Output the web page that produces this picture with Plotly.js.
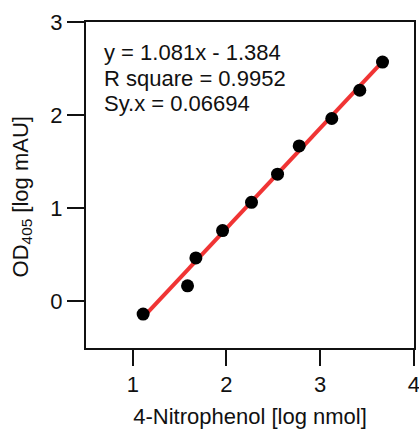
<!DOCTYPE html>
<html>
<head>
<meta charset="utf-8">
<script src="https://cdn.plot.ly/plotly-3.0.1.min.js"></script>
<style>
html,body{margin:0;padding:0;background:#fff;}
#chart{width:419px;height:431px;}
</style>
</head>
<body>
<div id="chart"></div>
<script>
// Data
const pointsX = [1.110, 1.584, 1.673, 1.958, 2.267, 2.545, 2.776, 3.124, 3.423, 3.666];
const pointsY = [-0.136, 0.168, 0.467, 0.761, 1.064, 1.366, 1.669, 1.964, 2.267, 2.570];
const fitX = [1.110, 3.666];
const fitY = [-0.170, 2.575];
const xTicks = [1, 2, 3, 4];
const yTicks = [0, 1, 2, 3];
const statLines = ["y = 1.081x - 1.384", "R square = 0.9952", "Sy.x = 0.06694"];
const xTitle = '4-Nitrophenol [log nmol]';
const yTitle = 'OD<sub>405</sub> [log mAU]';

const font = "Liberation Sans, Arial, sans-serif";
const fs = 22;

const traces = [
  {
    x: fitX, y: fitY, mode: 'lines', type: 'scatter',
    line: {color: 'rgb(240,52,52)', width: 4},
    hoverinfo: 'skip', showlegend: false
  },
  {
    x: pointsX, y: pointsY, mode: 'markers', type: 'scatter',
    marker: {color: '#000', size: 13},
    cliponaxis: false, showlegend: false
  }
];

const statY = [0.905, 0.828, 0.751];

const annotations = statLines.map((t, i) => ({
  xref: 'paper', yref: 'paper', x: 0.05, y: statY[i],
  xanchor: 'left', yanchor: 'middle', align: 'left', showarrow: false,
  text: t,
  font: {family: font, size: fs, color: '#111'}
}));
annotations.push({
  xref: 'paper', yref: 'paper', x: -0.195, y: 0.462,
  xanchor: 'center', yanchor: 'middle', showarrow: false,
  textangle: -90, text: yTitle,
  font: {family: font, size: fs, color: '#111'}
});

const layout = {
  width: 419, height: 431,
  margin: {l: 86, r: 5, t: 22, b: 83},
  paper_bgcolor: '#fff', plot_bgcolor: '#fff',
  font: {family: font, size: fs, color: '#111'},
  showlegend: false,
  xaxis: {
    range: [0.5, 4.002], tickvals: xTicks, ticktext: xTicks.map(String),
    ticks: 'outside', ticklen: 16, tickwidth: 2, tickcolor: '#111',
    ticklabeloverflow: 'allow',
    showline: true, linewidth: 2, linecolor: '#111', mirror: true,
    showgrid: false, zeroline: false, automargin: false,
    tickfont: {family: font, size: fs, color: '#111'},
    title: {text: xTitle, font: {family: font, size: fs, color: '#111'}, standoff: 12}
  },
  yaxis: {
    range: [-0.5, 3], tickvals: yTicks, ticktext: yTicks.map(String),
    ticks: 'outside', ticklen: 17, tickwidth: 2, tickcolor: '#111',
    ticklabeloverflow: 'allow',
    showline: true, linewidth: 2, linecolor: '#111', mirror: true,
    showgrid: false, zeroline: false, automargin: false,
    tickfont: {family: font, size: fs, color: '#111'}
  },
  annotations: annotations
};

Plotly.newPlot('chart', traces, layout, {displayModeBar: false, staticPlot: true});
</script>
</body>
</html>
